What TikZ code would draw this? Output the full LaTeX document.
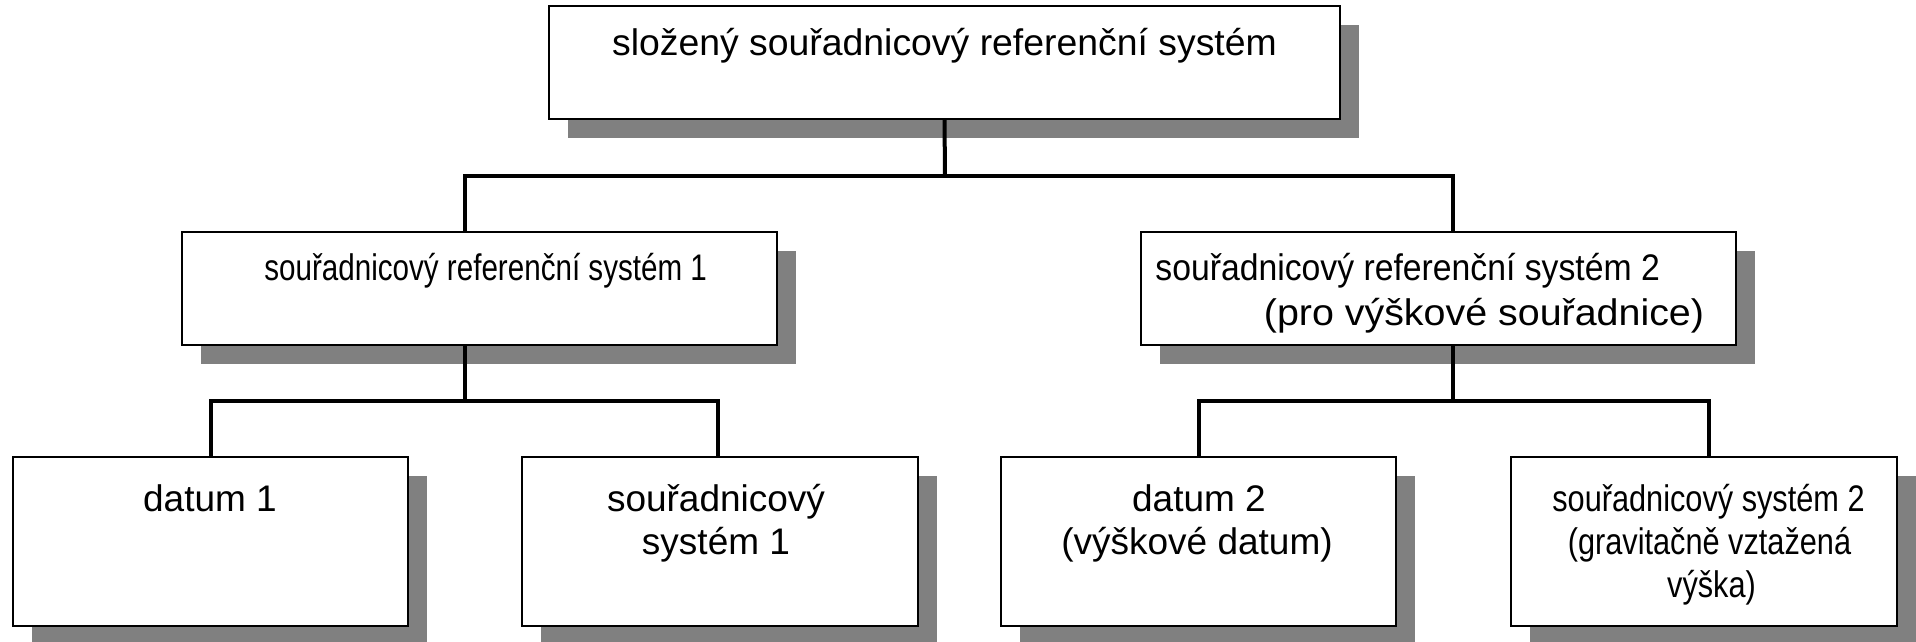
\documentclass[tikz,border=0pt]{standalone}
\usepackage{fontspec}
\setmainfont{Liberation Sans}
\usetikzlibrary{shadows}

\definecolor{shadowgray}{RGB}{128,128,128}
\newcommand\hsq[2]{\scalebox{#1}[1]{#2}}

\tikzset{
  box/.style={draw=black, line width=1pt, fill=white, inner sep=0pt,
    drop shadow={shadow xshift=9.5pt, shadow yshift=-9.5pt, opacity=1, fill=shadowgray}},
  conn/.style={draw=black, line width=2pt, line join=miter},
  lbl/.style={font=\fontsize{18.5pt}{22pt}\selectfont, inner sep=0pt, anchor=base},
  lblw/.style={lbl, anchor=base west}
}

\begin{document}
\begin{tikzpicture}[x=0.5pt, y=-0.5pt]
  \useasboundingbox (0,0) rectangle (1916,642);
  \fill[white] (0,0) rectangle (1916,642);

  % boxes (centre, size in pt = pixels / 2)
  \node[box, minimum width=395.5pt, minimum height=56.5pt] (top) at (944.5,62.5) {};
  \node[box, minimum width=297.5pt, minimum height=56.5pt] (l2) at (479.5,288.5) {};
  \node[box, minimum width=297.5pt, minimum height=56.5pt] (r2) at (1438.5,288.5) {};
  \node[box, minimum width=197.5pt, minimum height=84.5pt] (b1) at (210.5,541.5) {};
  \node[box, minimum width=198pt,   minimum height=84.5pt] (b2) at (720,541.5) {};
  \node[box, minimum width=197.5pt, minimum height=84.5pt] (b3) at (1198.5,541.5) {};
  \node[box, minimum width=193pt,   minimum height=84.5pt] (b4) at (1704,541.5) {};

  % labels
  \node[lbl] (t0) at (944.5,56) {\hsq{1.01}{složený souřadnicový referenční systém}};
  \node[lblw] (t1) at (264,280) {\hsq{0.80}{souřadnicový referenční systém 1}};
  \node[lblw] (t2a) at (1155,280) {\hsq{0.912}{souřadnicový referenční systém 2}};
  \node[lbl] (t2b) at (1484,325) {\hsq{1.065}{(pro výškové souřadnice)}};
  \node[lbl] (t3) at (210,511) {datum 1};
  \node[lbl] (t4a) at (716,511) {souřadnicový};
  \node[lbl] (t4b) at (716,554) {systém 1};
  \node[lbl] (t5a) at (1199,511) {datum 2};
  \node[lbl] (t5b) at (1197,554) {(výškové datum)};
  \node[lbl] (t6a) at (1708.5,511) {\hsq{0.83}{souřadnicový systém 2}};
  \node[lbl] (t6b) at (1709.5,554) {\hsq{0.83}{(gravitačně vztažená}};
  \node[lbl] (t6c) at (1711.5,597) {\hsq{0.83}{výška)}};

  % junction points of the tree
  \coordinate (h1) at (945,176);
  \coordinate (h2) at (465,401);
  \coordinate (h3) at (1453,401);

  % connectors
  \draw[conn] (top.south) -- (h1);
  \draw[conn] ([xshift=-7.25pt]l2.north) |- (h1) -| ([xshift=7.25pt]r2.north);
  \draw[conn] ([xshift=-7.25pt]l2.south) -- (h2);
  \draw[conn] (b1.north) |- (h2) -| ([xshift=-1pt]b2.north);
  \draw[conn] ([xshift=7.25pt]r2.south) -- (h3);
  \draw[conn] (b3.north) |- (h3) -| ([xshift=2.5pt]b4.north);
\end{tikzpicture}
\end{document}
